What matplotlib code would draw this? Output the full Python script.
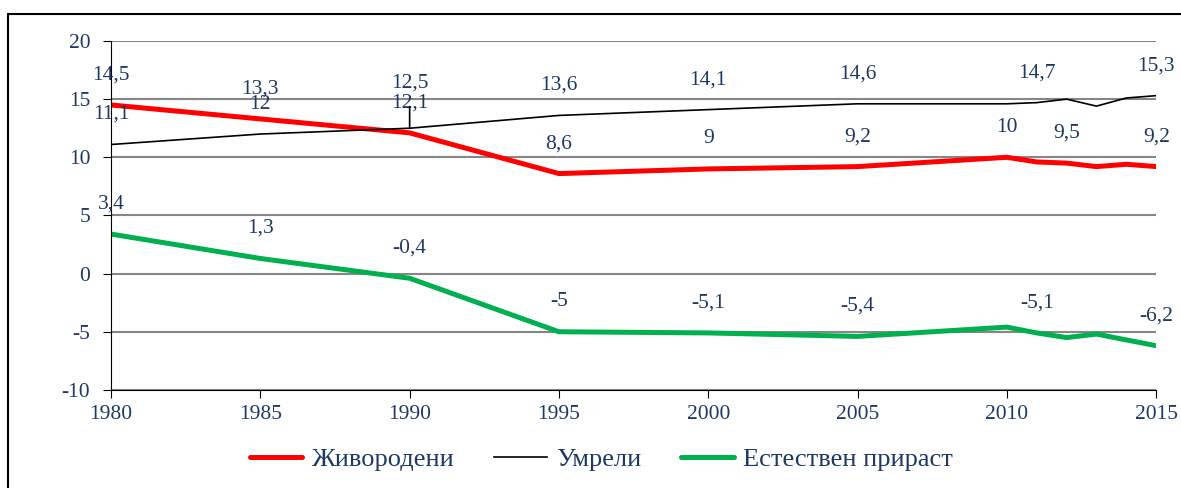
import numpy as np
import matplotlib
matplotlib.use('Agg')
import matplotlib.pyplot as plt
from matplotlib.patches import Rectangle

plt.rcParams['font.family'] = ['Liberation Serif', 'DejaVu Serif']
plt.rcParams['axes.unicode_minus'] = False

years = [1980, 1985, 1990, 1995, 2000, 2005, 2010, 2011, 2012, 2013, 2014, 2015]
born = [14.5, 13.3, 12.1, 8.6, 9.0, 9.2, 10.0, 9.6, 9.5, 9.2, 9.4, 9.2]
died = [11.1, 12.0, 12.5, 13.6, 14.1, 14.6, 14.6, 14.7, 15.0, 14.4, 15.1, 15.3]
growth = [3.4, 1.3, -0.4, -5.0, -5.1, -5.4, -4.6, -5.1, -5.5, -5.2, -5.7, -6.2]

# which points carry a data label
born_lab = [0, 1, 2, 3, 4, 5, 6, 8, 11]
died_lab = [0, 1, 2, 3, 4, 5, 7, 11]
growth_lab = [0, 1, 2, 3, 4, 5, 7, 11]

navy = '#1F3864'
fs = 15.5

fig = plt.figure(figsize=(11.81, 4.88), dpi=100)
ax = fig.add_axes([0.094, 0.201, 0.885, 0.715])

ax.plot(years, born, color='#FF0000', lw=3.6, label='Живородени', solid_capstyle='round')
ax.plot(years, died, color='black', lw=1.2, label='Умрели')
ax.plot(years, growth, color='#00B050', lw=3.6, label='Естествен прираст', solid_capstyle='round')

def fmt(v):
    s = ('%.1f' % v).rstrip('0').rstrip('.')
    return s.replace('.', ',')

for idx, ys in [(born_lab, born), (died_lab, died), (growth_lab, growth)]:
    for i in idx:
        if ys is died and years[i] == 1990:
            # label pushed up, with a leader line
            ax.annotate(fmt(ys[i]), (years[i], ys[i]), xytext=(0, 45), textcoords='offset pixels',
                        ha='center', va='center', fontsize=fs, color=navy,
                        arrowprops=dict(arrowstyle='-', color='black', lw=1.2, shrinkA=8, shrinkB=0))
            continue
        ax.annotate(fmt(ys[i]), (years[i], ys[i]), xytext=(0, 30), textcoords='offset pixels',
                    ha='center', va='center', fontsize=fs, color=navy)

ax.set_xlim(1980, 2015)
ax.set_ylim(-10, 20)
ax.set_xticks(range(1980, 2016, 5))
ax.set_yticks(range(-10, 21, 5))
ax.grid(axis='y', color='#868686', lw=1.5)
ax.set_axisbelow(True)
for s in ['top', 'right']:
    ax.spines[s].set_visible(False)
ax.tick_params(axis='y', length=6, direction='out', colors='black', labelcolor=navy, labelsize=fs, pad=9)
ax.tick_params(axis='x', length=6, direction='out', colors='black', labelcolor=navy, labelsize=fs, pad=5)

fig.legend(loc='center', bbox_to_anchor=(0.509, 0.058), ncol=3, frameon=False,
           prop={'size': 19}, handlelength=2.0, handletextpad=0.35, columnspacing=1.5,
           labelcolor=navy)

fig.patches.append(Rectangle((8 / 1181, -0.1), 1.2, 1.1 - 14 / 488, transform=fig.transFigure,
                             fill=False, edgecolor='black', lw=1.5))

fig.savefig('out.png', dpi=100)
